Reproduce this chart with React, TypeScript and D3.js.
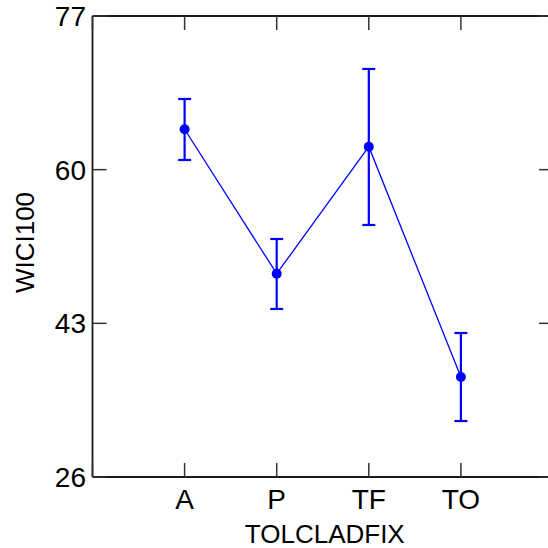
import React from "react";
import * as d3 from "d3";

const categories = ["A", "P", "TF", "TO"];
const means = [64.47, 48.49, 62.54, 37.06];
const upper = [67.82, 52.33, 71.14, 41.93];
const lower = [61.07, 44.59, 53.88, 32.19];
const yTicks = [26, 43, 60, 77];

const W = 548;
const H = 548;
const left = 92.5;
const right = 553;
const top = 16;
const bottom = 477;
const FONT = "'Liberation Sans', Arial, sans-serif";
const BLUE = "#0000ff";
const AXIS = "#1a1a1a";
const TICK_FS = 28;
const TITLE_FS = 26;

export default function App() {
  const x = d3.scaleLinear().domain([0, categories.length + 1]).range([left, right]);
  const y = d3.scaleLinear().domain([26, 77]).range([bottom, top]);
  const line = d3
    .line<number>()
    .x((_, i) => x(i + 1))
    .y((d) => y(d));
  const tickLen = 14;
  const xTickPos = d3.range(0, categories.length + 2);

  return (
    <svg
      width={W}
      height={H}
      style={{ position: "absolute", left: 0, top: 0, background: "#fff" }}
    >
      {/* frame */}
      <line x1={left} x2={right} y1={top} y2={top} stroke={AXIS} strokeWidth={1.8} />
      <line x1={left} x2={right} y1={bottom} y2={bottom} stroke={AXIS} strokeWidth={1.8} />
      <line x1={left} x2={left} y1={top} y2={bottom} stroke={AXIS} strokeWidth={1.8} />
      <line x1={right} x2={right} y1={top} y2={bottom} stroke={AXIS} strokeWidth={1.8} />

      {/* y ticks, left and right, pointing inward */}
      {yTicks.map((t) => (
        <g key={"y" + t}>
          <line x1={left} x2={left + tickLen} y1={y(t)} y2={y(t)} stroke="#333" strokeWidth={1.5} />
          <line x1={right - tickLen} x2={right} y1={y(t)} y2={y(t)} stroke="#333" strokeWidth={1.5} />
          <text
            x={left - 6.5}
            y={y(t)}
            dy="0.36em"
            textAnchor="end"
            fontFamily={FONT}
            fontSize={TICK_FS}
            fill="#000"
          >
            {t}
          </text>
        </g>
      ))}

      {/* x ticks, top and bottom, pointing inward */}
      {xTickPos.map((p) => (
        <g key={"x" + p}>
          <line x1={x(p)} x2={x(p)} y1={bottom} y2={bottom - tickLen} stroke="#333" strokeWidth={1.5} />
          <line x1={x(p)} x2={x(p)} y1={top} y2={top + tickLen} stroke="#333" strokeWidth={1.5} />
        </g>
      ))}
      {categories.map((c, i) => (
        <text
          key={"xl" + c}
          x={x(i + 1)}
          y={509}
          textAnchor="middle"
          fontFamily={FONT}
          fontSize={TICK_FS}
          fill="#000"
        >
          {c}
        </text>
      ))}

      {/* axis titles */}
      <text
        x={(left + right) / 2 + 2}
        y={543}
        textAnchor="middle"
        fontFamily={FONT}
        fontSize={TITLE_FS}
        fill="#000"
      >
        TOLCLADFIX
      </text>
      <text
        transform={`translate(33.5, ${(top + bottom) / 2 - 4}) rotate(-90)`}
        textAnchor="middle"
        fontFamily={FONT}
        fontSize={TITLE_FS}
        fill="#000"
      >
        WICI100
      </text>

      {/* connecting line */}
      <path d={line(means) ?? ""} fill="none" stroke={BLUE} strokeWidth={1.3} />

      {/* error bars */}
      {categories.map((c, i) => {
        const cx = x(i + 1);
        return (
          <g key={"e" + c} stroke={BLUE} strokeWidth={2.2}>
            <line x1={cx} x2={cx} y1={y(upper[i])} y2={y(lower[i])} />
            <line x1={cx - 6.5} x2={cx + 6.5} y1={y(upper[i])} y2={y(upper[i])} />
            <line x1={cx - 6.5} x2={cx + 6.5} y1={y(lower[i])} y2={y(lower[i])} />
          </g>
        );
      })}

      {/* means */}
      {categories.map((c, i) => (
        <circle key={"m" + c} cx={x(i + 1)} cy={y(means[i])} r={5} fill={BLUE} />
      ))}
    </svg>
  );
}
